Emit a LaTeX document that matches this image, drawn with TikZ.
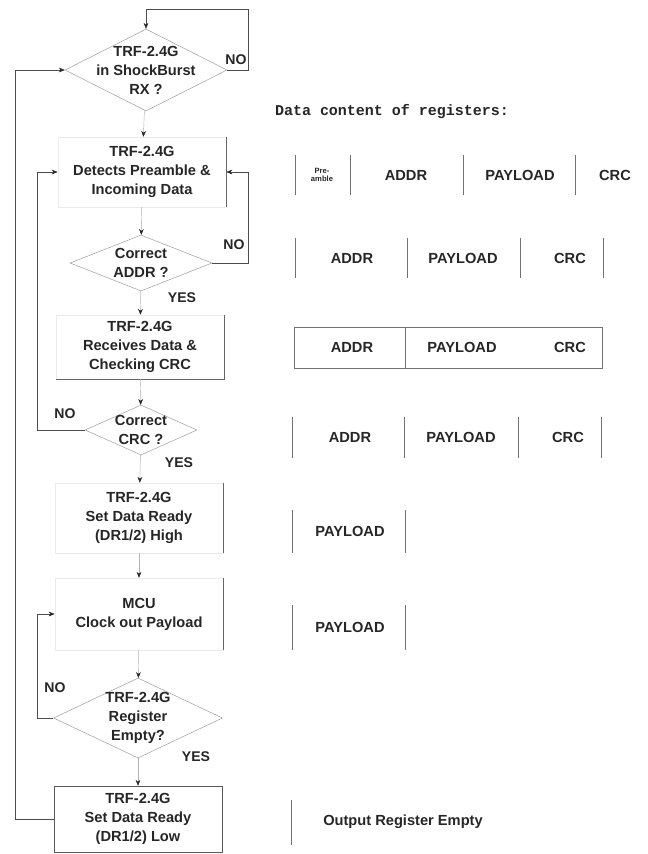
\documentclass[tikz,border=0pt]{standalone}
\usepackage{fontspec}
\setmainfont{Liberation Sans}
\newfontfamily\regfont{Liberation Mono}
\usetikzlibrary{shapes.geometric,arrows.meta}

\begin{document}
\begin{tikzpicture}[x=0.03cm,y=-0.03cm,
      every node/.style={text=black!85,font=\bfseries\fontsize{12.5}{16.3}\selectfont},
      proc/.style={rectangle,draw=black!8,minimum width=5.05cm,inner sep=0pt,align=center},
      dec/.style={diamond,draw=black!40,inner sep=0pt},
      dtext/.style={align=center},
      flow/.style={draw=black!30,-{Stealth[length=5pt,width=4pt,black!85]}},
      back/.style={draw=black!70,-{Stealth[length=5pt,width=4pt,black!85]}},
      rim/.style={draw=black!60},
      regline/.style={draw=black!55},
      lbl/.style={font=\bfseries\fontsize{12}{13}\selectfont}]
      \useasboundingbox (0,0) rectangle (648,854);
      % flow chart
      \node[dec,minimum width=4.86cm,minimum height=2.46cm,
        label={[dtext]center:{TRF-2.4G\\in ShockBurst\\RX ?}}] (d1) at (146,70) {};
      \node[proc,minimum height=2.1cm] (b2) at (142,172) {TRF-2.4G\\Detects Preamble \&\\Incoming Data};
      \node[dec,minimum width=4.26cm,minimum height=1.68cm,
        label={[dtext]center:{Correct\\ADDR ?}}] (d2) at (141,263) {};
      \node[proc,minimum height=1.92cm] (b3) at (140,347) {TRF-2.4G\\Receives Data \&\\Checking CRC};
      \node[dec,minimum width=3.36cm,minimum height=1.5cm,
        label={[dtext]center:{Correct\\CRC ?}}] (d3) at (141,430) {};
      \node[proc,minimum height=2.1cm] (b4) at (139,518) {TRF-2.4G\\Set Data Ready\\(DR1/2) High};
      \node[proc,minimum height=2.16cm] (b5) at (139,614) {MCU\\Clock out Payload};
      \node[dec,minimum width=5.07cm,minimum height=2.4cm,
        label={[dtext]center:{TRF-2.4G\\Register\\Empty?}}] (d4) at (138,718) {};
      \node[proc,draw=black!65,minimum height=1.98cm] (b6) at (138,819) {TRF-2.4G\\Set Data Ready\\(DR1/2) Low};
      % visible box edges
      \draw[rim] (b2.north east) -- (b2.south east);
      \draw[rim] (b3.north east) -- (b3.south east) -- (b3.south west);
      \draw[rim] (b4.north east) -- (b4.south east);
      \draw[rim] (b5.north east) -- (b5.south east);
      % straight arrows
      \draw[flow] (d1) -- (b2);
      \draw[flow] (b2) -- (d2);
      \draw[flow] (d2) -- (b3);
      \draw[flow] (b3) -- (d3);
      \draw[flow] (d3) -- (b4);
      \draw[flow] (b4) -- (b5);
      \draw[flow] (b5) -- (d4);
      \draw[flow] (d4) -- (b6);
      % loops
      \coordinate (top) at (146,9);
      \coordinate (rr) at (248,0);
      \coordinate (ll) at (37,0);
      \coordinate (lll) at (15,0);
      \draw[back] (d1.east) -| (top -| rr) -- (top) -- (d1.north);
      \draw[back] (d2.east) -| (b2.east -| rr) -- (b2.east);
      \draw[back] (d3.west) -| (b2.west -| ll) -- (b2.west);
      \draw[back] (d4.west) -| (b5.west -| ll) -- (b5.west);
      \draw[back] (b6.west) -| (d1.west -| lll) -- (d1.west);
      % answers
      \node[lbl] (no1) at (236,60) {NO};
      \node[lbl] (no2) at (234,245) {NO};
      \node[lbl] (no3) at (65,414) {NO};
      \node[lbl] (no4) at (55,688) {NO};
      \node[lbl] (yes2) at (182,298) {YES};
      \node[lbl] (yes3) at (179,463) {YES};
      \node[lbl] (yes4) at (196,757) {YES};
      % registers
      \node[font=\regfont\bfseries\fontsize{12.8}{14}\selectfont] (title) at (392,112) {Data content of registers:};
      \foreach \x in {295,350,463,575} \draw[regline] (\x,155) -- (\x,195);
      \node[font=\bfseries\fontsize{6.5}{7.5}\selectfont,align=center] (pre1) at (322,175) {Pre-\\amble};
      \node (addr1) at (406,175) {ADDR};
      \node (pay1) at (520,175) {PAYLOAD};
      \node (crc1) at (615,175) {CRC};
      \foreach \x in {295,407,520,603} \draw[regline] (\x,238) -- (\x,278);
      \node (addr2) at (352,258) {ADDR};
      \node (pay2) at (463,258) {PAYLOAD};
      \node (crc2) at (570,258) {CRC};
      \draw[regline] (294,327) rectangle (602,368);
      \draw[regline] (405,327) -- (405,368);
      \node (addr3) at (352,347) {ADDR};
      \node (pay3) at (462,347) {PAYLOAD};
      \node (crc3) at (570,347) {CRC};
      \foreach \x in {292,404,518,601} \draw[regline] (\x,417) -- (\x,458);
      \node (addr4) at (350,437) {ADDR};
      \node (pay4) at (461,437) {PAYLOAD};
      \node (crc4) at (568,437) {CRC};
      \foreach \x in {292,405} \draw[regline] (\x,510) -- (\x,553);
      \node (pay5) at (350,531) {PAYLOAD};
      \foreach \x in {292,405} \draw[regline] (\x,605) -- (\x,650);
      \node (pay6) at (350,627) {PAYLOAD};
      \draw[regline] (291,800) -- (291,845);
      \node (empty) at (403,822) {Output Register Empty};
\end{tikzpicture}
\end{document}
